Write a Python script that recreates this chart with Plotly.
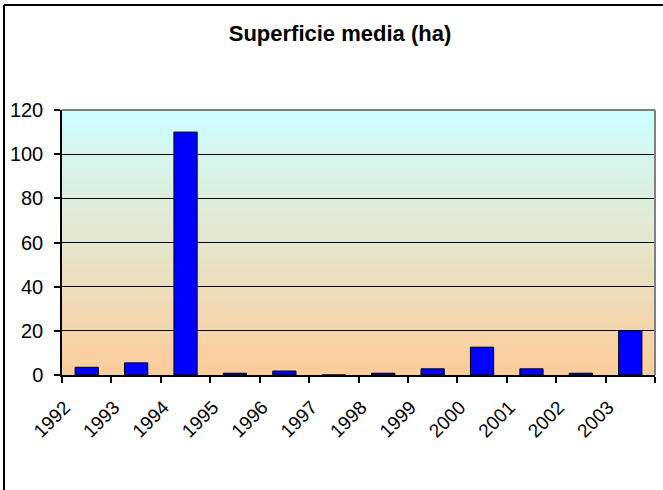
import plotly.graph_objects as go

years = ["1992", "1993", "1994", "1995", "1996", "1997", "1998", "1999", "2000", "2001", "2002", "2003"]
values = [3.5, 5.5, 110, 0.8, 1.8, 0, 0.8, 2.8, 12.6, 2.8, 0.8, 20]
y_ticks = [0, 20, 40, 60, 80, 100, 120]
title_text = "Superficie media (ha)"

W, H = 663, 490
L, R, T, B = 62, 8, 110, 115
pw, ph = W - L - R, H - T - B

def px_to_paper_x(x):
    return (x - L) / pw

def px_to_paper_y(y):
    return (H - B - y) / ph

fig = go.Figure()
fig.add_trace(go.Bar(
    x=years, y=values,
    marker=dict(color="#0000FF", line=dict(color="black", width=1)),
    width=0.47,
))

shapes = []
top_c = (204, 255, 255)
bot_c = (252, 204, 153)
n = 80
for i in range(n):
    f = (i + 0.5) / n
    c = tuple(round(bot_c[k] + (top_c[k] - bot_c[k]) * f) for k in range(3))
    shapes.append(dict(type="rect", xref="paper", yref="paper",
                       x0=0, x1=1, y0=i / n, y1=(i + 1) / n + 0.002,
                       fillcolor="rgb(%d,%d,%d)" % c, line=dict(width=0),
                       layer="below"))
shapes.append(dict(type="line", xref="paper", yref="paper", x0=0, x1=1, y0=1, y1=1,
                   line=dict(color="#808080", width=2), layer="above"))
shapes.append(dict(type="line", xref="paper", yref="paper", x0=1, x1=1, y0=0, y1=1,
                   line=dict(color="#808080", width=2), layer="above"))
shapes.append(dict(type="line", xref="paper", yref="paper",
                   x0=px_to_paper_x(4), x1=px_to_paper_x(4),
                   y0=px_to_paper_y(5), y1=px_to_paper_y(H + 5),
                   line=dict(color="black", width=2), layer="above"))
shapes.append(dict(type="line", xref="paper", yref="paper",
                   x0=px_to_paper_x(4), x1=px_to_paper_x(W + 5),
                   y0=px_to_paper_y(5), y1=px_to_paper_y(5),
                   line=dict(color="black", width=2), layer="above"))

fig.update_layout(
    width=W, height=H,
    margin=dict(l=L, r=R, t=T, b=B, autoexpand=False),
    paper_bgcolor="white",
    plot_bgcolor="rgba(0,0,0,0)",
    showlegend=False,
    shapes=shapes,
    font=dict(family="Liberation Sans, Arial, sans-serif", color="black"),
    title=dict(text="<b>" + title_text + "</b>", x=340 / W, xanchor="center",
               y=1 - 33 / H, yanchor="middle",
               font=dict(size=22, family="Liberation Sans, Arial, sans-serif", color="black")),
    bargap=0.53,
)
fig.update_xaxes(
    type="category",
    automargin=False,
    tickson="boundaries",
    ticks="outside", ticklen=6, tickcolor="black", tickwidth=1.5,
    showline=True, linecolor="black", linewidth=1.5,
    tickangle=-45,
    ticklabelstandoff=12,
    ticklabelshift=-22,
    tickfont=dict(size=19, color="black"),
    showgrid=False,
)
fig.update_yaxes(
    range=[0, 120],
    automargin=False,
    tickvals=y_ticks,
    ticks="outside", ticklen=6, tickcolor="black", tickwidth=1.5,
    showline=True, linecolor="black", linewidth=1.5,
    showgrid=True, gridcolor="black", gridwidth=1,
    zeroline=False,
    ticklabelstandoff=7,
    tickfont=dict(size=20, color="black"),
)

fig.write_html("out.html", config={"displayModeBar": False},
               post_script="document.body.style.margin='0px';")
